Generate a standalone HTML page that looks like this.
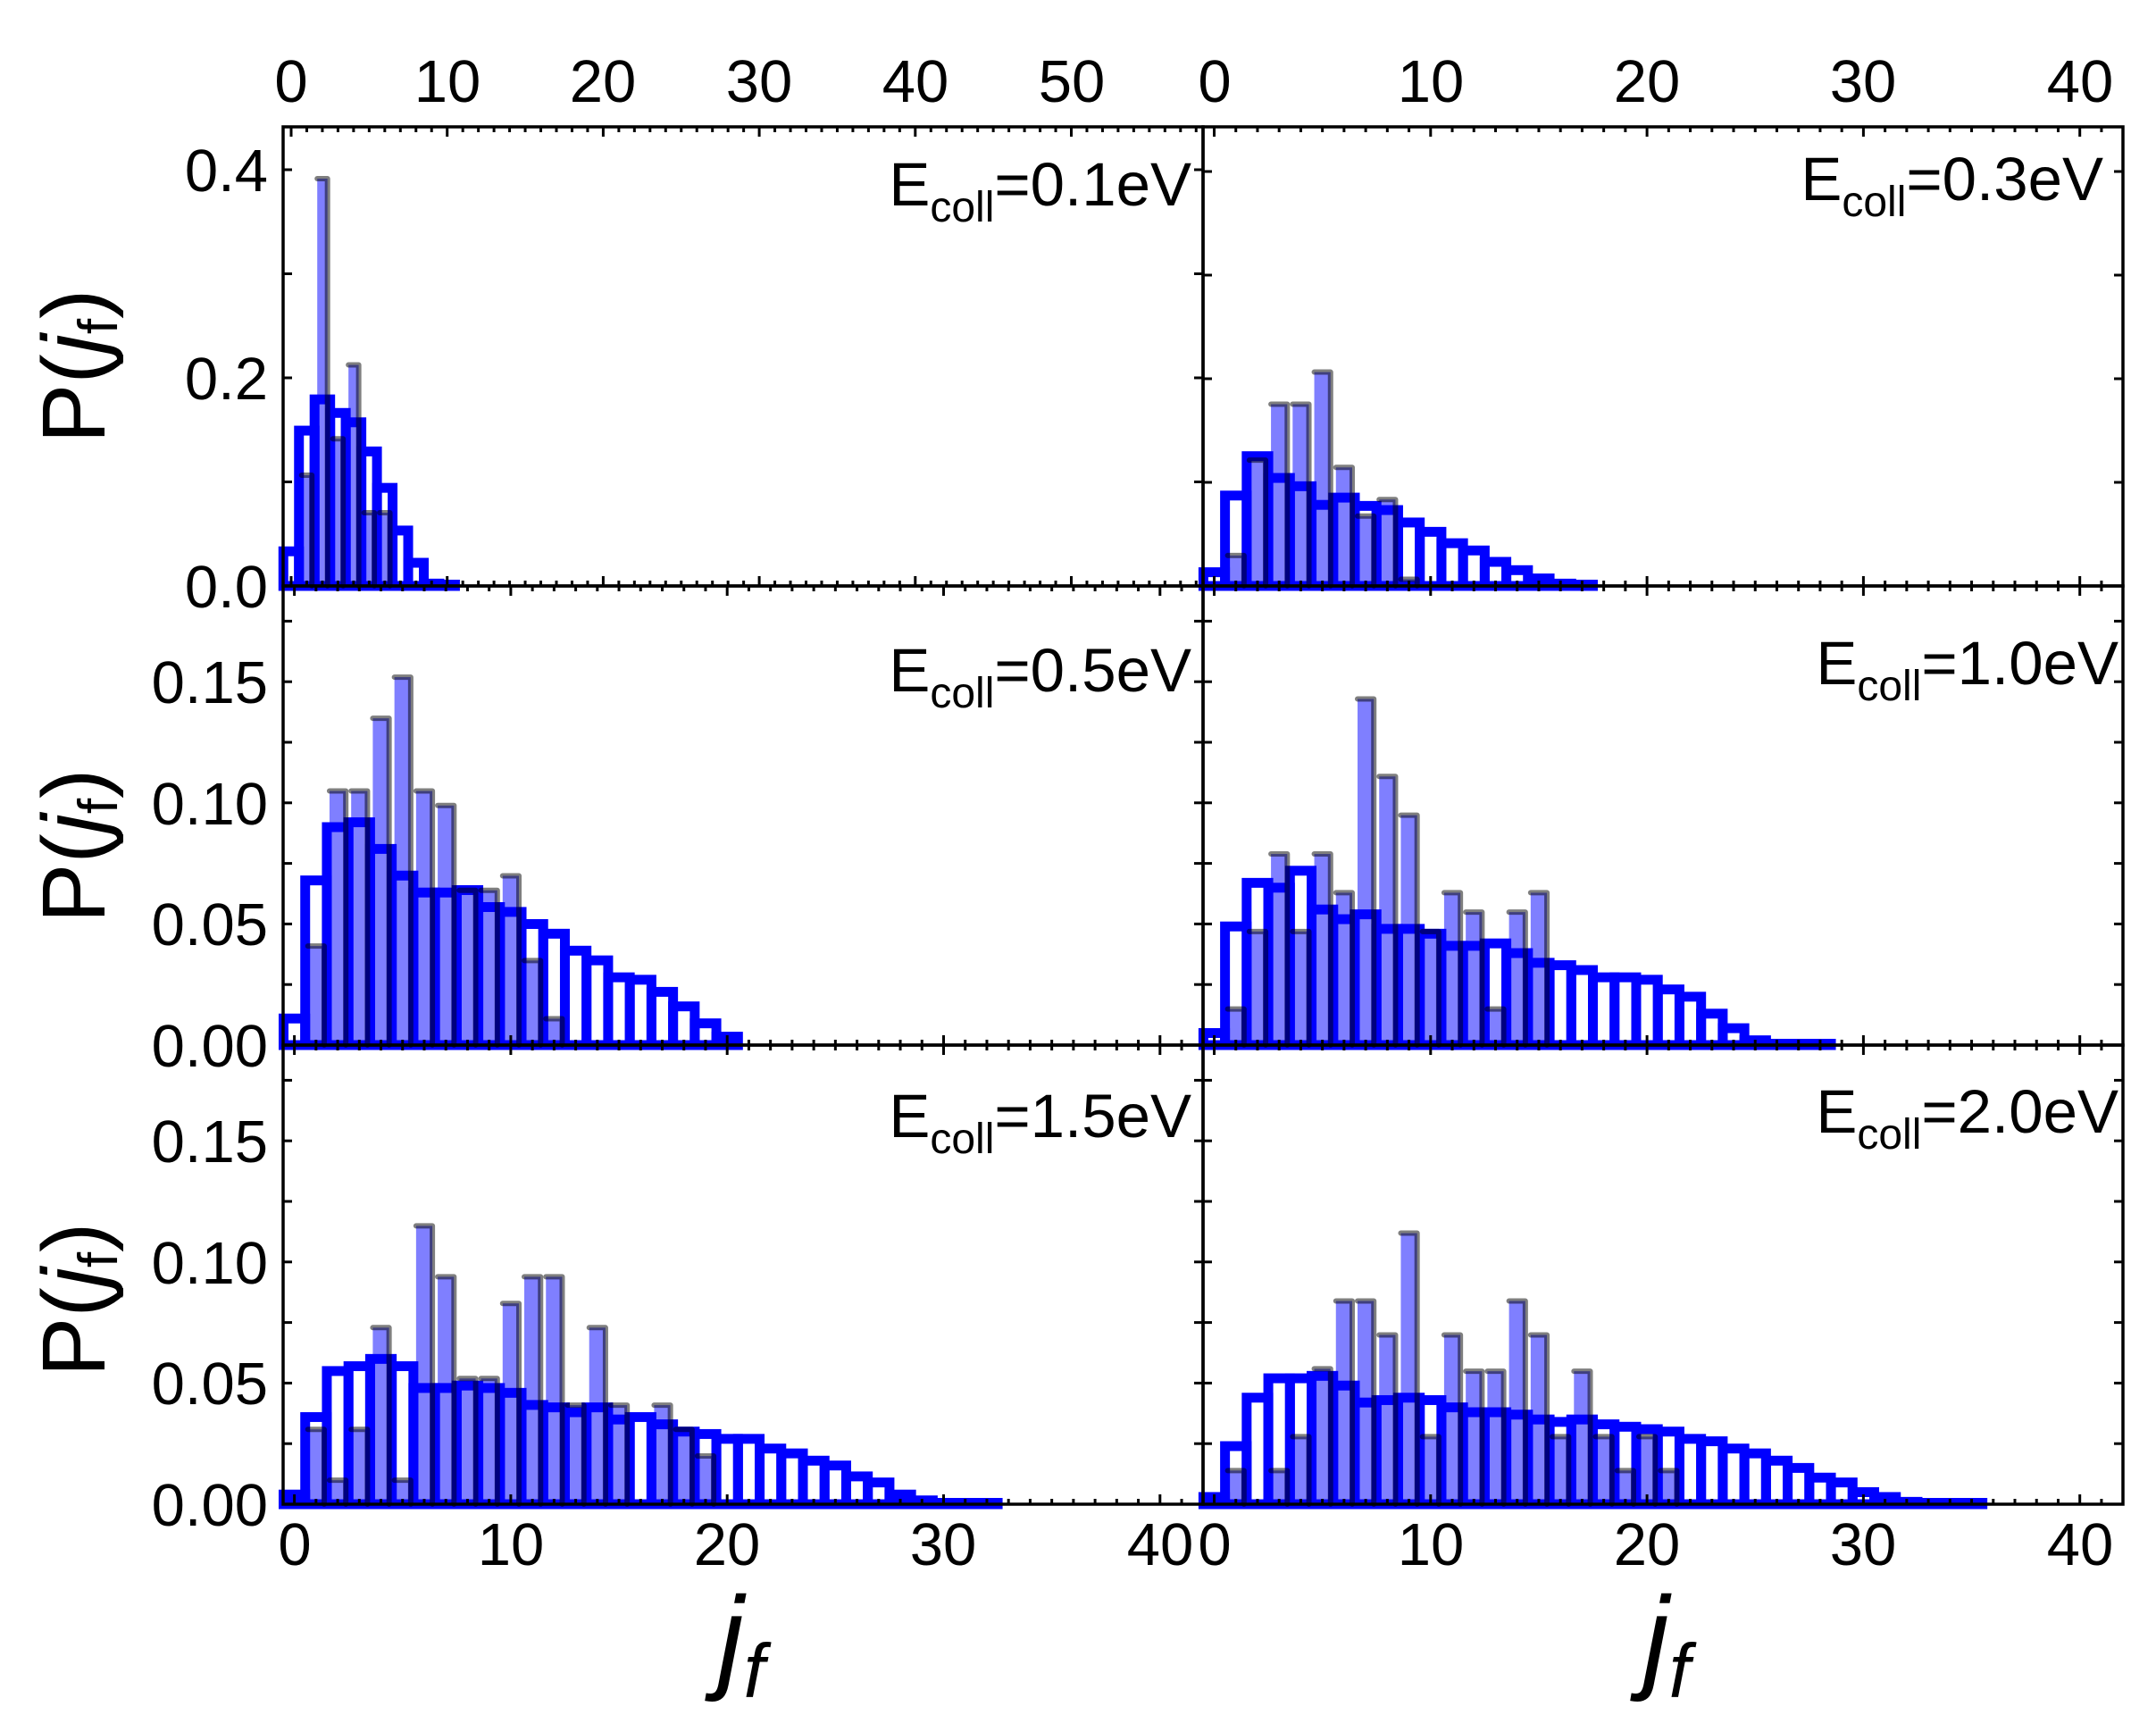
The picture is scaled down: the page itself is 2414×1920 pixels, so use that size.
<!DOCTYPE html>
<html><head><meta charset="utf-8"><style>
html,body{margin:0;padding:0;background:#fff;}
svg{display:block;}
text{font-family:"Liberation Sans",Arial,sans-serif;fill:#000;}
</style></head><body>
<svg id="s" xmlns="http://www.w3.org/2000/svg" width="2414" height="1920" viewBox="0 0 2414 1920">
<rect width="2414" height="1920" fill="#fff"/>
<g id="bars"></g>
<g id="axes"></g>
<g font-size="67">
<text x="326" y="114" text-anchor="middle">0</text>
<text x="501" y="114" text-anchor="middle">10</text>
<text x="675" y="114" text-anchor="middle">20</text>
<text x="850" y="114" text-anchor="middle">30</text>
<text x="1025" y="114" text-anchor="middle">40</text>
<text x="1200" y="114" text-anchor="middle">50</text>
<text x="1360" y="114" text-anchor="middle">0</text>
<text x="1602" y="114" text-anchor="middle">10</text>
<text x="1844" y="114" text-anchor="middle">20</text>
<text x="2086" y="114" text-anchor="middle">30</text>
<text x="2329" y="114" text-anchor="middle">40</text>
<text x="330" y="1752" text-anchor="middle">0</text>
<text x="572" y="1752" text-anchor="middle">10</text>
<text x="814" y="1752" text-anchor="middle">20</text>
<text x="1056" y="1752" text-anchor="middle">30</text>
<text x="1299" y="1752" text-anchor="middle">40</text>
<text x="1360" y="1752" text-anchor="middle">0</text>
<text x="1602" y="1752" text-anchor="middle">10</text>
<text x="1844" y="1752" text-anchor="middle">20</text>
<text x="2086" y="1752" text-anchor="middle">30</text>
<text x="2329" y="1752" text-anchor="middle">40</text>
<text x="300" y="680" text-anchor="end">0.0</text>
<text x="300" y="447" text-anchor="end">0.2</text>
<text x="300" y="214" text-anchor="end">0.4</text>
<text x="300" y="1194" text-anchor="end">0.00</text>
<text x="300" y="1058" text-anchor="end">0.05</text>
<text x="300" y="923" text-anchor="end">0.10</text>
<text x="300" y="787" text-anchor="end">0.15</text>
<text x="300" y="1708" text-anchor="end">0.00</text>
<text x="300" y="1572" text-anchor="end">0.05</text>
<text x="300" y="1437" text-anchor="end">0.10</text>
<text x="300" y="1301" text-anchor="end">0.15</text>
</g>
<g font-size="69">
<text x="1334" y="230" text-anchor="end">E<tspan font-size="48" dy="18">coll</tspan><tspan dy="-18">=0.1eV</tspan></text>
<text x="2355" y="224" text-anchor="end">E<tspan font-size="48" dy="18">coll</tspan><tspan dy="-18">=0.3eV</tspan></text>
<text x="1334" y="774" text-anchor="end">E<tspan font-size="48" dy="18">coll</tspan><tspan dy="-18">=0.5eV</tspan></text>
<text x="2372" y="766" text-anchor="end">E<tspan font-size="48" dy="18">coll</tspan><tspan dy="-18">=1.0eV</tspan></text>
<text x="1334" y="1273" text-anchor="end">E<tspan font-size="48" dy="18">coll</tspan><tspan dy="-18">=1.5eV</tspan></text>
<text x="2372" y="1268" text-anchor="end">E<tspan font-size="48" dy="18">coll</tspan><tspan dy="-18">=2.0eV</tspan></text>
</g>
<g font-size="100">
<text transform="translate(117,410) rotate(-90)" text-anchor="middle">P(<tspan font-style="italic">j</tspan><tspan font-size="62" dy="14">f</tspan><tspan dy="-14">)</tspan></text>
<text transform="translate(117,947) rotate(-90)" text-anchor="middle">P(<tspan font-style="italic">j</tspan><tspan font-size="62" dy="14">f</tspan><tspan dy="-14">)</tspan></text>
<text transform="translate(117,1455) rotate(-90)" text-anchor="middle">P(<tspan font-style="italic">j</tspan><tspan font-size="62" dy="14">f</tspan><tspan dy="-14">)</tspan></text>
</g>
<g font-size="130" font-style="italic">
<text x="830" y="1878" text-anchor="middle">j<tspan font-size="85" dy="22">f</tspan></text>
<text x="1866" y="1878" text-anchor="middle">j<tspan font-size="85" dy="22">f</tspan></text>
</g>
</svg>
<script>
(function(){
var NS="http://www.w3.org/2000/svg";
var bars=document.getElementById('bars'), axes=document.getElementById('axes');
function el(p,t,a){var e=document.createElementNS(NS,t);for(var k in a)e.setAttribute(k,a[k]);p.appendChild(e);return e;}
var P=[
{x0:326,u:17.47,y0:656,sy:1165,L:317,R:1347,T:142,yt:0.1,ym:0.44,
 c:[0.038,0.154,0.184,0.171,0.162,0.134,0.099,0.058,0.027,0.007,0.004],
 q:[0,0.109,0.394,0.144,0.215,0.073,0.073]},
{x0:1359.5,u:24.23,y0:656,sy:1160,L:1347,R:2377,T:142,yt:0.1,ym:0.44,
 c:[0.018,0.092,0.130,0.109,0.101,0.083,0.090,0.082,0.078,0.066,0.057,0.046,0.039,0.028,0.020,0.012,0.007,0.004],
 q:[0,0.032,0.124,0.178,0.178,0.209,0.117,0.070,0.086,0.009]},
{x0:329.6,u:24.23,y0:1170,sy:2712,L:317,R:1347,T:656,yt:0.025,ym:0.19,
 c:[0.013,0.070,0.092,0.094,0.083,0.072,0.065,0.065,0.066,0.059,0.057,0.052,0.048,0.041,0.037,0.030,0.029,0.024,0.018,0.011,0.0055],
 q:[0,0.042,0.106,0.106,0.136,0.153,0.106,0.100,0.065,0.065,0.071,0.036,0.012]},
{x0:1359.5,u:24.23,y0:1170,sy:2712,L:1347,R:2377,T:656,yt:0.025,ym:0.19,
 c:[0.007,0.051,0.069,0.067,0.074,0.058,0.054,0.056,0.050,0.050,0.048,0.043,0.043,0.044,0.040,0.036,0.035,0.033,0.030,0.030,0.029,0.025,0.022,0.015,0.009,0.004,0.002,0.0015,0.0015],
 q:[0,0.016,0.048,0.080,0.048,0.080,0.064,0.144,0.112,0.096,0.048,0.064,0.056,0.016,0.056,0.064]},
{x0:329.6,u:24.23,y0:1684,sy:2712,L:317,R:1347,T:1170,yt:0.025,ym:0.19,
 c:[0.006,0.038,0.057,0.059,0.062,0.059,0.050,0.050,0.051,0.050,0.048,0.043,0.042,0.040,0.042,0.037,0.038,0.035,0.032,0.031,0.029,0.029,0.025,0.023,0.020,0.018,0.0135,0.011,0.006,0.0036,0.0023,0.0023,0.002],
 q:[0,0.032,0.011,0.032,0.074,0.011,0.116,0.095,0.053,0.053,0.084,0.095,0.095,0.042,0.074,0.042,0,0.042,0.032,0.021]},
{x0:1359.5,u:24.23,y0:1684,sy:2712,L:1347,R:2377,T:1170,yt:0.025,ym:0.19,
 c:[0.005,0.026,0.046,0.054,0.054,0.055,0.051,0.044,0.045,0.046,0.045,0.042,0.040,0.040,0.039,0.037,0.036,0.037,0.035,0.034,0.033,0.032,0.029,0.028,0.025,0.023,0.020,0.017,0.013,0.011,0.007,0.005,0.003,0.0023,0.002,0.002],
 q:[0,0.015,0,0.015,0.029,0.057,0.085,0.085,0.071,0.113,0.029,0.071,0.056,0.056,0.085,0.071,0.029,0.056,0.029,0.015,0.029,0.015]}
];
P.forEach(function(p){
  p.c.forEach(function(v,j){
    var top=p.y0-v*p.sy+5.5; if(top>p.y0-1.5)top=p.y0-1.5;
    var l=p.x0+(j-0.5)*p.u;
    el(bars,'rect',{x:l,y:top,width:p.u,height:p.y0-top,fill:'none',stroke:'#0000ff','stroke-width':11});
  });
});
P.forEach(function(p){
  p.q.forEach(function(v,j){
    if(v<=0)return;
    var top=p.y0-v*p.sy+3;
    var l=p.x0+(j-0.5)*p.u+3, r=p.x0+(j+0.5)*p.u-3;
    el(bars,'rect',{x:l,y:top,width:r-l,height:p.y0-top,fill:'rgba(0,0,255,0.5)'});
    el(bars,'path',{d:'M'+l+' '+top+'H'+r+'V'+p.y0,fill:'none',stroke:'rgba(0,0,0,0.5)','stroke-width':6,'stroke-linecap':'round','stroke-linejoin':'round'});
  });
});
P.forEach(function(p){
  for(var j=0;;j++){
    var x=p.x0+j*p.u; if(x>p.R-1)break;
    var len=(j%10==0)?11:6;
    el(axes,'line',{x1:x,y1:p.T,x2:x,y2:p.T+len,stroke:'#000','stroke-width':3});
    el(axes,'line',{x1:x,y1:p.y0,x2:x,y2:p.y0-len,stroke:'#000','stroke-width':3});
  }
  for(var k=1;k*p.yt<p.ym-0.001;k++){
    var y=p.y0-k*p.yt*p.sy;
    el(axes,'line',{x1:p.L,y1:y,x2:p.L+10,y2:y,stroke:'#000','stroke-width':3});
    el(axes,'line',{x1:p.R,y1:y,x2:p.R-10,y2:y,stroke:'#000','stroke-width':3});
  }
  el(axes,'rect',{x:p.L,y:p.T,width:p.R-p.L,height:p.y0-p.T,fill:'none',stroke:'#000','stroke-width':3.5});
});
})();
</script>
</body></html>
